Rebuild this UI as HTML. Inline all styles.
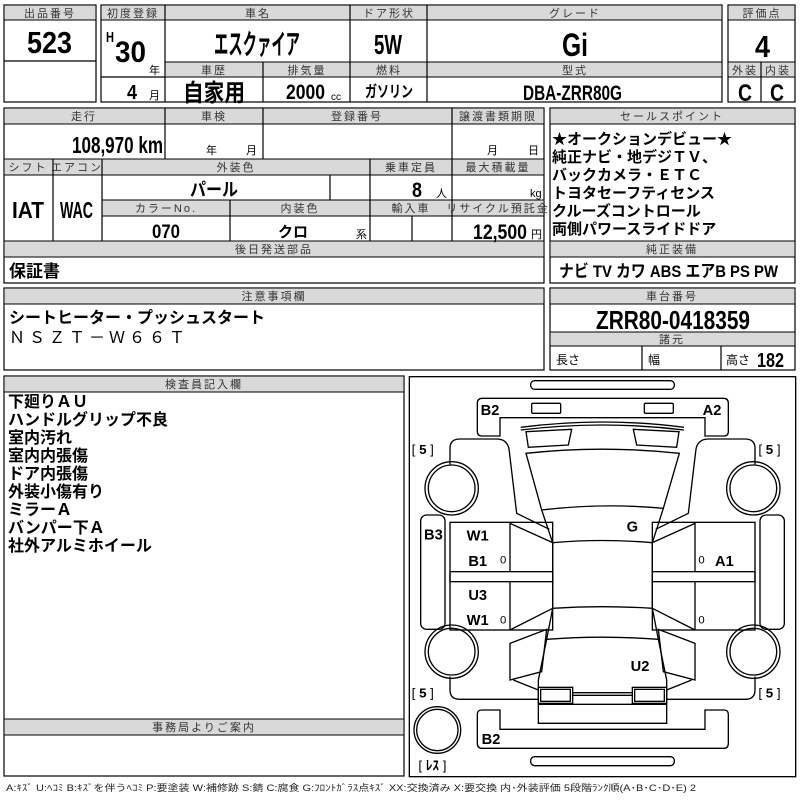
<!DOCTYPE html>
<html><head><meta charset="utf-8"><style>
html,body{margin:0;padding:0;background:#fff;width:800px;height:800px;overflow:hidden}
svg text{font-family:"Liberation Sans","Noto Sans CJK JP",sans-serif;}
.h{fill:#d9d9d9;stroke:#000;stroke-width:1}
.c{fill:none;stroke:#000;stroke-width:1.2}
.ht{font-size:11px;fill:#333;text-anchor:middle;letter-spacing:2px}
.v{font-weight:bold;fill:#000}
.m{text-anchor:middle}
.s{font-size:11px;fill:#000}
</style></head><body>
<svg width="800" height="800" viewBox="0 0 800 800" xmlns="http://www.w3.org/2000/svg">
<!-- Section 1 -->
<rect class="c" x="4" y="5" width="92" height="97"/>
<rect class="h" x="4" y="5" width="92" height="15"/>
<line class="c" x1="4" y1="61" x2="96" y2="61"/>
<text class="ht" x="50" y="17">出品番号</text>
<text class="v" x="27" y="53" font-size="31" textLength="45" lengthAdjust="spacingAndGlyphs">523</text>

<rect class="c" x="101" y="5" width="621" height="97"/>
<rect class="h" x="101" y="5" width="621" height="15"/>
<rect class="h" x="165" y="62" width="557" height="15"/>
<line class="c" x1="101" y1="77" x2="165" y2="77"/>
<line class="c" x1="165" y1="5" x2="165" y2="102"/>
<line class="c" x1="350" y1="5" x2="350" y2="102"/>
<line class="c" x1="427" y1="5" x2="427" y2="102"/>
<line class="c" x1="263" y1="62" x2="263" y2="102"/>
<text class="ht" x="133" y="17" letter-spacing="0">初度登録</text>
<text class="ht" x="258" y="17">車名</text>
<text class="ht" x="389" y="17" letter-spacing="0">ドア形状</text>
<text class="ht" x="575" y="17" letter-spacing="8">グレード</text>
<text class="ht" x="214" y="74">車歴</text>
<text class="ht" x="307" y="74">排気量</text>
<text class="ht" x="389" y="74">燃料</text>
<text class="ht" x="575" y="74">型式</text>
<text class="v" x="106" y="42" font-size="15" textLength="8" lengthAdjust="spacingAndGlyphs">H</text>
<text class="v" x="115" y="62" font-size="30" textLength="31" lengthAdjust="spacingAndGlyphs">30</text>
<text class="s" x="149" y="74">年</text>
<text class="v" x="127" y="99" font-size="20" textLength="10" lengthAdjust="spacingAndGlyphs">4</text>
<text class="s" x="149" y="99">月</text>
<text class="v" x="214" y="54" font-size="28" textLength="86" lengthAdjust="spacingAndGlyphs">エスクァイア</text>
<text class="v" x="374" y="54" font-size="28" textLength="28" lengthAdjust="spacingAndGlyphs">5W</text>
<text class="v" x="562" y="56" font-size="32" textLength="26" lengthAdjust="spacingAndGlyphs">Gi</text>
<text class="v" x="183" y="101" font-size="24" textLength="62" lengthAdjust="spacingAndGlyphs">自家用</text>
<text class="v" x="286" y="99" font-size="21" textLength="39" lengthAdjust="spacingAndGlyphs">2000</text>
<text x="331" y="100" font-size="10">cc</text>
<text class="v" x="365" y="97" font-size="16" textLength="48" lengthAdjust="spacingAndGlyphs">ガソリン</text>
<text class="v" x="523" y="100" font-size="21" textLength="99" lengthAdjust="spacingAndGlyphs">DBA-ZRR80G</text>

<rect class="c" x="728" y="5" width="67" height="97"/>
<rect class="h" x="728" y="5" width="67" height="15"/>
<rect class="h" x="728" y="62" width="67" height="15"/>
<line class="c" x1="761" y1="62" x2="761" y2="102"/>
<text class="ht" x="762" y="17" letter-spacing="0">評価点</text>
<text class="v" x="755" y="57" font-size="31" textLength="15" lengthAdjust="spacingAndGlyphs">4</text>
<text class="ht" x="745" y="74" letter-spacing="0">外装</text>
<text class="ht" x="778" y="74" letter-spacing="0">内装</text>
<text class="v" x="738" y="101" font-size="24" textLength="14" lengthAdjust="spacingAndGlyphs">C</text>
<text class="v" x="770" y="101" font-size="24" textLength="14" lengthAdjust="spacingAndGlyphs">C</text>

<!-- Section 2 -->
<rect class="c" x="4" y="108" width="540" height="175"/>
<rect class="h" x="4" y="108" width="540" height="16"/>
<rect class="h" x="4" y="159" width="540" height="16"/>
<rect class="h" x="102" y="200" width="442" height="16"/>
<rect class="h" x="4" y="241" width="540" height="16"/>
<line class="c" x1="165" y1="108" x2="165" y2="159"/>
<line class="c" x1="263" y1="108" x2="263" y2="159"/>
<line class="c" x1="452" y1="108" x2="452" y2="241"/>
<line class="c" x1="53" y1="159" x2="53" y2="241"/>
<line class="c" x1="102" y1="159" x2="102" y2="241"/>
<line class="c" x1="370" y1="159" x2="370" y2="241"/>
<line class="c" x1="330" y1="175" x2="330" y2="200"/>
<line class="c" x1="230" y1="200" x2="230" y2="241"/>
<line class="c" x1="412" y1="216" x2="412" y2="241"/>
<text class="ht" x="84" y="120">走行</text>
<text class="ht" x="214" y="120">車検</text>
<text class="ht" x="357" y="120" letter-spacing="5">登録番号</text>
<text class="ht" x="498" y="120" letter-spacing="0">譲渡書類期限</text>
<text class="ht" x="28" y="171" letter-spacing="0">シフト</text>
<text class="ht" x="77" y="171" letter-spacing="0">エアコン</text>
<text class="ht" x="236" y="171" letter-spacing="4">外装色</text>
<text class="ht" x="411" y="171" letter-spacing="0">乗車定員</text>
<text class="ht" x="498" y="171" letter-spacing="0">最大積載量</text>
<text class="ht" x="166" y="212" letter-spacing="4">カラーNo.</text>
<text class="ht" x="300" y="212" letter-spacing="4">内装色</text>
<text class="ht" x="411" y="212" letter-spacing="4">輸入車</text>
<text class="ht" x="498" y="212" font-size="10" letter-spacing="0">リサイクル預託金</text>
<text class="ht" x="274" y="253" letter-spacing="5">後日発送部品</text>
<text class="v" x="72" y="153" font-size="23" textLength="91" lengthAdjust="spacingAndGlyphs">108,970 km</text>
<text class="s" x="206" y="154">年</text>
<text class="s" x="246" y="154">月</text>
<text class="s" x="487" y="154">月</text>
<text class="s" x="528" y="154">日</text>
<text class="v" x="190" y="196" font-size="18" textLength="48" lengthAdjust="spacingAndGlyphs">パール</text>
<text class="v" x="412" y="197" font-size="21" textLength="10" lengthAdjust="spacingAndGlyphs">8</text>
<text class="s" x="436" y="197">人</text>
<text class="s" x="530" y="197">kg</text>
<text class="v" x="12" y="218" font-size="23" textLength="32" lengthAdjust="spacingAndGlyphs">IAT</text>
<text class="v" x="60" y="218" font-size="23" textLength="33" lengthAdjust="spacingAndGlyphs">WAC</text>
<text class="v" x="152" y="238" font-size="19" textLength="28" lengthAdjust="spacingAndGlyphs">070</text>
<text class="v m" x="293" y="237" font-size="15">クロ</text>
<text class="s" x="356" y="238">系</text>
<text class="v" x="473" y="239" font-size="21" textLength="54" lengthAdjust="spacingAndGlyphs">12,500</text>
<text class="s" x="531" y="238">円</text>
<text class="v" x="9" y="277" font-size="17">保証書</text>

<rect class="c" x="550" y="108" width="245" height="175"/>
<rect class="h" x="550" y="108" width="245" height="16"/>
<rect class="h" x="550" y="241" width="245" height="16"/>
<text class="ht" x="672" y="120" letter-spacing="6">セールスポイント</text>
<text class="ht" x="672" y="253" letter-spacing="6">純正装備</text>
<g font-size="15" font-weight="bold">
<text x="552" y="144">★オークションデビュー★</text>
<text x="552" y="162">純正ナビ・地デジＴＶ、</text>
<text x="552" y="180">バックカメラ・ＥＴＣ</text>
<text x="552" y="198">トヨタセーフティセンス</text>
<text x="552" y="216">クルーズコントロール</text>
<text x="552" y="234">両側パワースライドドア</text>
</g>
<text class="v" x="559" y="277" font-size="17" textLength="219" lengthAdjust="spacingAndGlyphs">ナビ  TV  カワ  ABS  エアB  PS  PW</text>

<!-- Section 3 -->
<rect class="c" x="4" y="288" width="540" height="82"/>
<rect class="h" x="4" y="288" width="540" height="16"/>
<text class="ht" x="274" y="300" letter-spacing="5">注意事項欄</text>
<text class="v" x="9" y="323" font-size="16">シートヒーター・プッシュスタート</text>
<text x="9" y="343" font-size="16" letter-spacing="4" fill="#000">ＮＳＺＴ－Ｗ６６Ｔ</text>

<rect class="c" x="550" y="288" width="245" height="82"/>
<rect class="h" x="550" y="288" width="245" height="16"/>
<rect class="h" x="550" y="332" width="245" height="14"/>
<line class="c" x1="642" y1="346" x2="642" y2="370"/>
<line class="c" x1="721" y1="346" x2="721" y2="370"/>
<text class="ht" x="672" y="300" letter-spacing="5">車台番号</text>
<text class="v" x="596" y="329" font-size="26" textLength="154" lengthAdjust="spacingAndGlyphs">ZRR80-0418359</text>
<text class="ht" x="672" y="343" letter-spacing="5">諸元</text>
<text x="556" y="364" font-size="12">長さ</text>
<text x="648" y="364" font-size="12">幅</text>
<text x="726" y="364" font-size="12">高さ</text>
<text class="v" x="757" y="367" font-size="20" textLength="27" lengthAdjust="spacingAndGlyphs">182</text>

<!-- Section 4 -->
<rect class="c" x="4" y="376" width="400" height="400"/>
<rect class="h" x="4" y="376" width="400" height="16"/>
<rect class="h" x="4" y="719" width="400" height="16"/>
<text class="ht" x="204" y="388" letter-spacing="5">検査員記入欄</text>
<text class="ht" x="204" y="731" letter-spacing="8">事務局よりご案内</text>
<g font-size="16" font-weight="bold">
<text x="8" y="407">下廻りＡＵ</text>
<text x="8" y="425">ハンドルグリップ不良</text>
<text x="8" y="443">室内汚れ</text>
<text x="8" y="461">室内内張傷</text>
<text x="8" y="479">ドア内張傷</text>
<text x="8" y="497">外装小傷有り</text>
<text x="8" y="515">ミラーＡ</text>
<text x="8" y="533">バンパー下Ａ</text>
<text x="8" y="551">社外アルミホイール</text>
</g>
<text x="6" y="791" font-size="9" fill="#222" textLength="690" lengthAdjust="spacingAndGlyphs">A:ｷｽﾞ U:ﾍｺﾐ B:ｷｽﾞを伴うﾍｺﾐ P:要塗装 W:補修跡 S:錆 C:腐食 G:ﾌﾛﾝﾄｶﾞﾗｽ点ｷｽﾞ XX:交換済み X:要交換  内･外装評価  5段階ﾗﾝｸ順(A･B･C･D･E) 2</text>

<!-- Diagram -->
<svg x="400" y="370" width="400" height="430" viewBox="0 0 1200 1290">
<g fill="none" stroke="#000" stroke-width="4">
<rect x="28" y="20" width="1159" height="1200" stroke-width="4"/>
<rect x="392" y="32" width="431" height="26" rx="12"/>
<rect x="392" y="1160" width="431" height="27" rx="12"/>
<path d="M232,100 Q232,85 247,85 L970,85 Q985,85 985,100 L985,185 Q985,198 972,198 L915,198 L915,143 L300,143 L300,198 L245,198 Q232,198 232,185 Z"/>
<path d="M245,1020 L300,1020 L300,1078 L915,1078 L915,1020 L972,1020 Q985,1020 985,1033 L985,1120 Q985,1135 970,1135 L247,1135 Q232,1135 232,1120 L232,1033 Q232,1020 245,1020Z"/>
<rect x="395" y="100" width="87" height="30" rx="4"/>
<rect x="733" y="100" width="87" height="30" rx="4"/>
<path d="M362,172 Q607,140 852,172"/>
<path d="M362,180 Q607,150 852,180"/>
<path d="M378,250 Q607,225 838,250 L790,415 Q607,398 425,420 Z"/>
<path d="M425,420 L458,518 Q607,505 757,518 L790,415"/>
<path d="M458,518 L458,715 Q607,705 757,715 L757,518"/>
<path d="M458,715 L440,808 Q607,795 775,808 L757,715"/>
<path d="M440,808 L415,930 L415,1060 L800,1060 L800,930 L775,808"/>
<line x1="415" y1="1003" x2="800" y2="1003"/>
<rect x="415" y="952" width="103" height="48"/>
<rect x="422" y="958" width="89" height="36"/>
<rect x="697" y="952" width="103" height="48"/>
<rect x="704" y="958" width="89" height="36"/>
<line x1="518" y1="968" x2="697" y2="968"/>
<line x1="518" y1="976" x2="697" y2="976"/>
<g id="half">
<path d="M378,185 L515,178 L505,225 L385,232 Z"/>
<path d="M150,283 L150,235 Q150,207 180,207 L290,207 Q325,207 328,245 L350,430 L448,478"/>
<rect x="150" y="457" width="308" height="323"/>
<rect x="150" y="605" width="308" height="30"/>
<line x1="330" y1="457" x2="330" y2="605"/>
<line x1="330" y1="635" x2="330" y2="780"/>
<line x1="330" y1="460" x2="458" y2="518"/>
<line x1="330" y1="780" x2="458" y2="715"/>
<path d="M330,820 L440,778 L425,905 L330,930 Z"/>
<path d="M150,920 L150,960 Q150,988 180,988 L415,988"/>
<line x1="340" y1="930" x2="415" y2="960"/>
<circle cx="155" cy="355" r="80"/><circle cx="155" cy="355" r="70"/>
<circle cx="155" cy="845" r="80"/><circle cx="155" cy="845" r="70"/>
<rect x="62" y="435" width="73" height="343" rx="18"/>
</g>
<use href="#half" transform="translate(1215,0) scale(-1,1)"/>
<circle cx="112" cy="1080" r="70"/><circle cx="112" cy="1080" r="62"/>
</g>
<g font-family="Liberation Sans,sans-serif" font-weight="bold" font-size="44" fill="#000">
<text x="242" y="135">B2</text>
<text x="908" y="135">A2</text>
<text x="72" y="508">B3</text>
<text x="200" y="512">W1</text>
<text x="205" y="588">B1</text>
<text x="205" y="690">U3</text>
<text x="200" y="765">W1</text>
<text x="680" y="485">G</text>
<text x="945" y="588">A1</text>
<text x="692" y="903">U2</text>
<text x="245" y="1122">B2</text>
</g>
<g font-family="Liberation Sans,sans-serif" font-size="40" fill="#000">
<text x="300" y="580" font-size="34">0</text>
<text x="300" y="760" font-size="34">0</text>
<text x="895" y="580" font-size="34">0</text>
<text x="895" y="760" font-size="34">0</text>
<text x="35" y="252">[ <tspan font-weight="bold">5</tspan> ]</text>
<text x="1075" y="252">[ <tspan font-weight="bold">5</tspan> ]</text>
<text x="35" y="983">[ <tspan font-weight="bold">5</tspan> ]</text>
<text x="1075" y="983">[ <tspan font-weight="bold">5</tspan> ]</text>
<text x="55" y="1200" font-family="Liberation Sans,Noto Sans CJK JP,sans-serif">[ <tspan font-weight="bold">ﾚｽ</tspan> ]</text>
</g>
</svg>
</svg>
</body></html>
